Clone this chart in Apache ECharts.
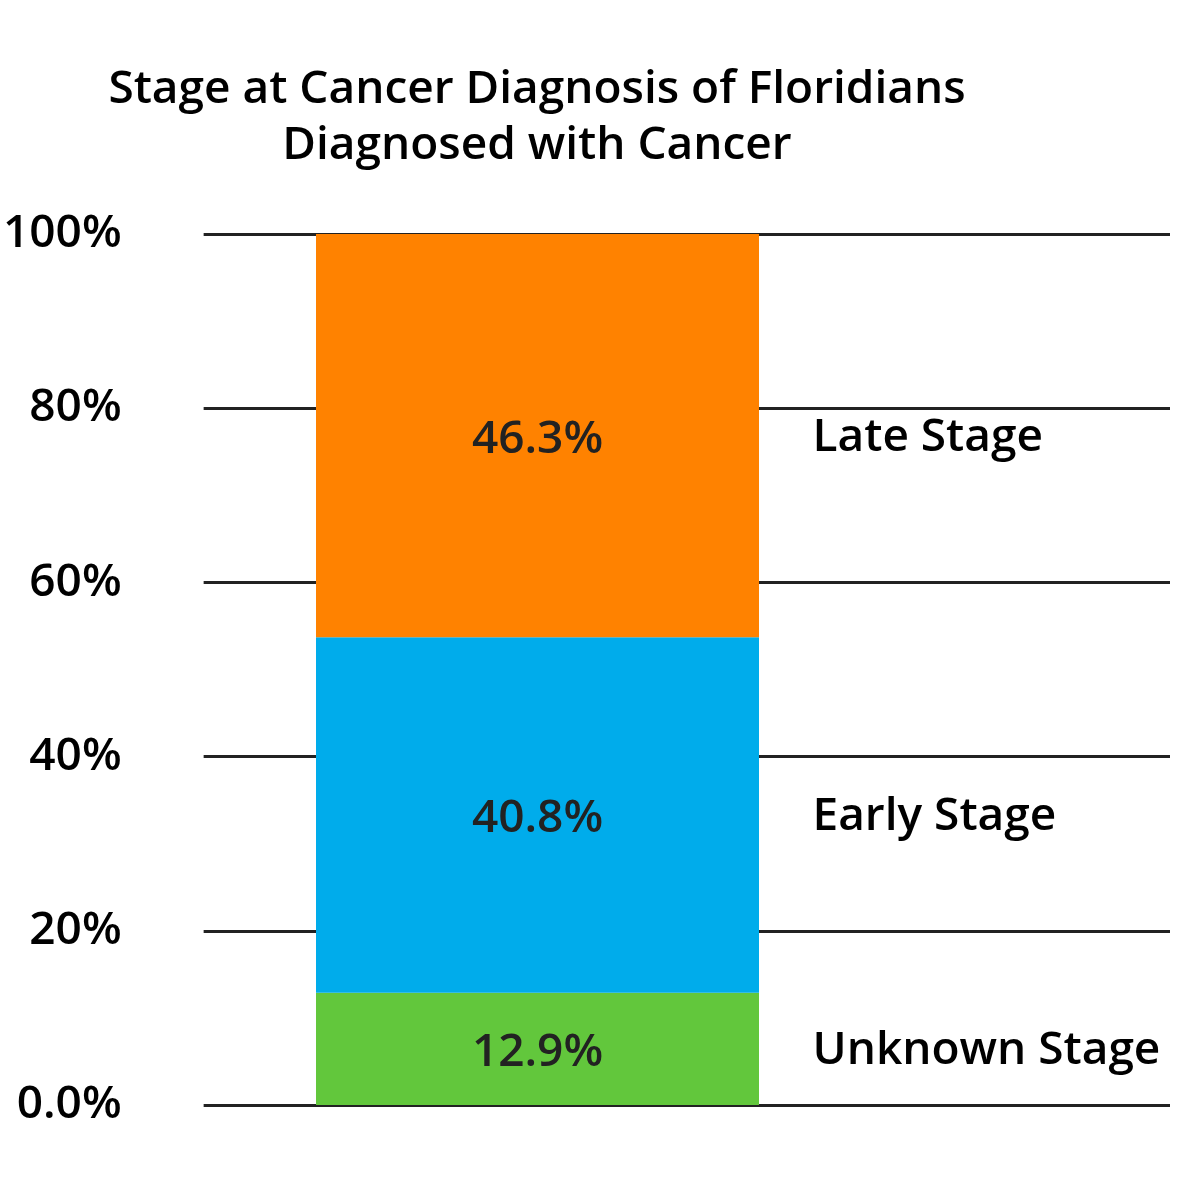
<!DOCTYPE html>
<html><head><meta charset="utf-8">
<script src="https://cdn.jsdelivr.net/npm/echarts@6/dist/echarts.min.js"></script>
<style>html,body{margin:0;padding:0;background:#fff}#c{width:1200px;height:1200px}</style>
</head><body><div id="c"></div>
<script>
const titleText = 'Stage at Cancer Diagnosis of Floridians\nDiagnosed with Cancer';
const categories = ['Florida'];
const seriesNames = ['Unknown Stage', 'Early Stage', 'Late Stage'];
const seriesValues = [[12.9], [40.8], [46.3]];
const seriesColors = ['#62C73C', '#00ACEB', '#FF8200'];
const yTicks = [0, 20, 40, 60, 80, 100];
const yTickLabels = ['0.0%', '20%', '40%', '60%', '80%', '100%'];

const FONT = '"Open Sans", "Noto Sans", sans-serif';
const FS = 46;
const FW = 600;
const chart = echarts.init(document.getElementById('c'), null, {renderer: 'canvas'});

let cum = 0;
const series = seriesNames.map((name, i) => {
  const v = seriesValues[i][0];
  const mid = cum + v / 2;
  cum += v;
  return {
    name, type: 'bar', stack: 'total', xAxisIndex: 1, yAxisIndex: 1,
    data: seriesValues[i], barWidth: '100%',
    itemStyle: {color: seriesColors[i]},
    label: {show: true, position: 'inside', offset: [0, 4], formatter: p => p.value.toFixed(1) + '%',
      color: '#222', fontSize: FS, fontFamily: FONT, fontWeight: FW},
    markPoint: {
      symbolSize: 0,
      data: [{coord: [0, mid], value: name}],
      label: {show: true, position: 'inside', align: 'left', offset: [275, 2], formatter: name,
        color: '#000', fontSize: FS, fontFamily: FONT, fontWeight: FW}
    }
  };
});

chart.setOption({
  animation: false,
  graphic: [{
    type: 'text', x: 537, y: 62,
    style: {text: titleText, align: 'center', verticalAlign: 'top', fill: '#000',
      font: FW + ' ' + FS + 'px ' + FONT, lineHeight: 56}
  }],
  grid: [
    {left: 200, right: 30, top: 234, bottom: 95},
    {left: 316, width: 443, top: 234, bottom: 95}
  ],
  xAxis: [
    {type: 'category', gridIndex: 0, data: categories, show: false},
    {type: 'category', gridIndex: 1, data: categories, show: false}
  ],
  yAxis: [
    {type: 'value', gridIndex: 0, min: 0, max: 100, interval: 20,
      axisLine: {show: false}, axisTick: {show: false},
      splitLine: {lineStyle: {color: '#222', width: 3}},
      axisLabel: {margin: 82, color: '#000', fontSize: FS, fontFamily: FONT, fontWeight: FW,
        formatter: v => yTickLabels[yTicks.indexOf(v)]}},
    {type: 'value', gridIndex: 1, min: 0, max: 100, show: false}
  ],
  series
});
</script></body></html>
